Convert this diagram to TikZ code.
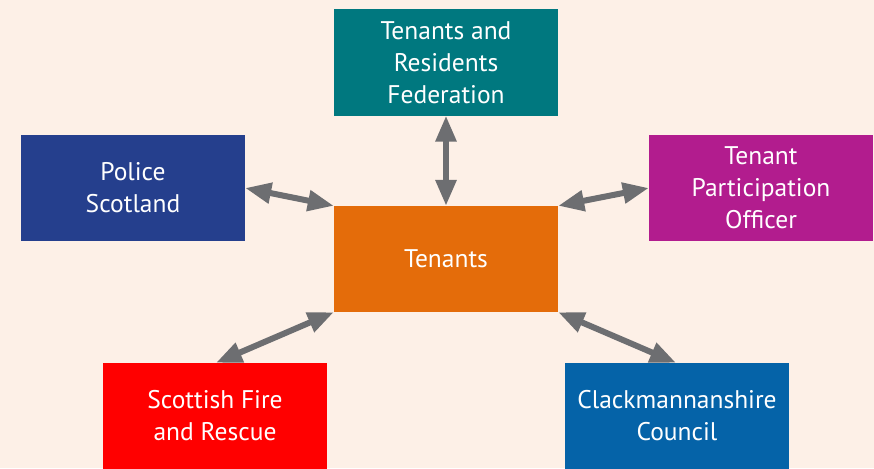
\documentclass[tikz,border=0pt]{standalone}
\usepackage{fontspec}
\setmainfont{PT Sans}
\usetikzlibrary{arrows.meta}
\definecolor{bgpeach}{HTML}{FDF0E7}
\definecolor{fedteal}{HTML}{00787F}
\definecolor{policeblue}{HTML}{253F8D}
\definecolor{tpomagenta}{HTML}{B21C8E}
\definecolor{tenorange}{HTML}{E46C0A}
\definecolor{firered}{HTML}{FF0000}
\definecolor{councilblue}{HTML}{0563A8}
\definecolor{arrowgrey}{HTML}{6D6E71}
\begin{document}
\begin{tikzpicture}[x=1pt, y=-1pt,
    partner/.style={rectangle, minimum width=224pt, minimum height=106pt,
      inner sep=0pt, text=white, align=center, font=\fontsize{25.5}{32}\selectfont},
    link/.style={arrowgrey, line width=6pt,
      {Triangle[length=26pt, width=20pt]}-{Triangle[length=26pt, width=20pt]}}]
        \fill[bgpeach] (0,0) rectangle (874,468);
        \useasboundingbox (0,0) rectangle (874,468);

        \node[partner, fill=tenorange] (tenants) at (446,259) {Tenants};

        \node[partner, fill=fedteal] (federation) at (446,62.5) {Tenants and\\Residents\\Federation};
        \node[partner, fill=policeblue] (police) at (133,188) {Police\\Scotland};
        \node[partner, fill=tpomagenta] (officer) at (761,188) {Tenant\\Participation\\Officer};
        \node[partner, fill=firered] (fire) at (215,416) {Scottish Fire\\and Rescue};
        \node[partner, fill=councilblue] (council) at (677,416) {Clackmannanshire\\Council};

        \draw[link] (federation.south) -- (tenants.north);
        \draw[link] (police.east) -- (tenants.north west);
        \draw[link] (officer.west) -- (tenants.north east);
        \draw[link] ([xshift=1pt]fire.north) -- (tenants.south west);
        \draw[link] ([xshift=-1pt]council.north) -- (tenants.south east);
      \end{tikzpicture}
\end{document}
